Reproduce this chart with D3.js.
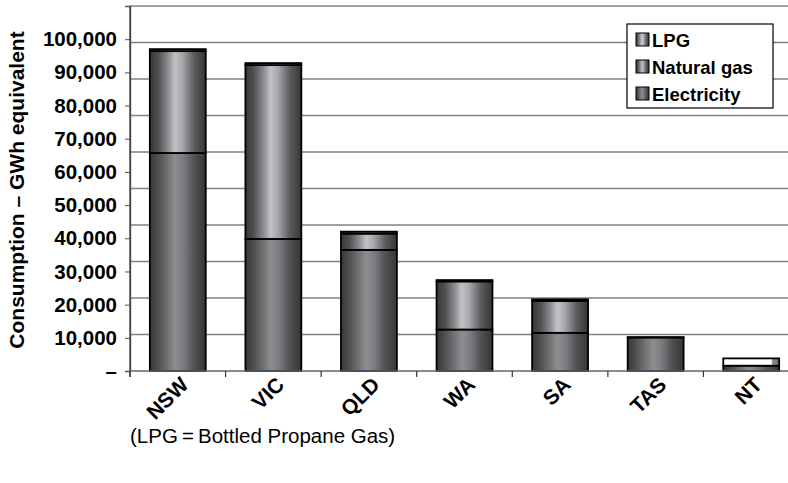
<!DOCTYPE html>
<html>
<head>
<meta charset="utf-8">
<script src="https://cdn.jsdelivr.net/npm/d3@7"></script>
<style>
  html, body { margin: 0; padding: 0; background: #fff; }
  svg { display: block; font-family: Arial, "Liberation Sans", Helvetica, sans-serif; }
</style>
</head>
<body>
<svg id="chart" width="788" height="483"></svg>
<script>
// Household energy consumption by state, GWh equivalent
const states = ["NSW", "VIC", "QLD", "WA", "SA", "TAS", "NT"];
const electricity = [65700, 39800, 36500, 12500, 11500, 10100, 1600];
const naturalGas  = [30700, 52400, 4900, 14500, 9600, 0, 2200];
const lpg         = [600, 600, 600, 400, 500, 100, 0];
const seriesNames = ["Electricity", "Natural gas", "LPG"];
const legendOrder = ["LPG", "Natural gas", "Electricity"];
const yTicks = [0, 10000, 20000, 30000, 40000, 50000, 60000, 70000, 80000, 90000, 100000];
const yMax = 110000;
const gridStep = 11000;
const yTitle = "Consumption \u2013 GWh equivalent";
const footnote = "(LPG\u2009=\u2009Bottled Propane Gas)";

const svg = d3.select("#chart");
const plot = { left: 130, right: 799, top: 6, bottom: 371 };

const x = d3.scaleBand().domain(states).range([plot.left, plot.right])
  .paddingInner(0.415).paddingOuter(0.2075);
const y = d3.scaleLinear().domain([0, yMax]).range([plot.bottom, plot.top]);

// cylinder-style shading for each series
const defs = svg.append("defs");
const shades = {
  "Electricity": [[0, "#383838"], [0.12, "#4a4a4c"], [0.3, "#6e6e70"], [0.45, "#8e8e92"], [0.6, "#7c7c80"], [0.8, "#505052"], [1, "#363636"]],
  "Natural gas": [[0, "#383838"], [0.15, "#505052"], [0.32, "#8a8a8e"], [0.45, "#c2c2c6"], [0.58, "#a8a8ac"], [0.8, "#5a5a5c"], [1, "#363636"]],
  "LPG":         [[0, "#404040"], [0.15, "#5c5c5e"], [0.32, "#9a9a9e"], [0.45, "#cacace"], [0.58, "#b2b2b6"], [0.8, "#606062"], [1, "#3a3a3a"]],
  "pale":        [[0, "#ffffff"], [0.86, "#ffffff"], [0.88, "#8a8a8a"], [1, "#6a6a6a"]]
};
Object.entries(shades).forEach(([name, stops]) => {
  const g = defs.append("linearGradient")
    .attr("id", "grad-" + name.replace(/\s/g, ""))
    .attr("x1", 0).attr("x2", 1).attr("y1", 0).attr("y2", 0);
  stops.forEach(([o, c]) => g.append("stop").attr("offset", o).attr("stop-color", c));
});

// gridlines
const grid = d3.range(gridStep, yMax + 1, gridStep);
svg.append("g").selectAll("line").data(grid).join("line")
  .attr("x1", plot.left).attr("x2", plot.right)
  .attr("y1", d => y(d)).attr("y2", d => y(d))
  .attr("stroke", "#808080").attr("stroke-width", 1.6);

// stacked bars
const rows = states.map((s, i) => ({ state: s, Electricity: electricity[i], "Natural gas": naturalGas[i], LPG: lpg[i] }));
const stack = d3.stack().keys(seriesNames)(rows);
const barsG = svg.append("g");
stack.forEach(layer => {
  const key = layer.key;
  barsG.append("g").selectAll("rect").data(layer.filter(d => d[1] - d[0] > 0)).join("rect")
    .attr("x", d => x(d.data.state))
    .attr("width", x.bandwidth())
    .attr("y", d => y(d[1]))
    .attr("height", d => y(d[0]) - y(d[1]))
    .attr("fill", d => (d.data.state === "NT" && key === "Natural gas") ? "url(#grad-pale)" : "url(#grad-" + key.replace(/\s/g, "") + ")")
    .attr("stroke", "#000").attr("stroke-width", 1.8);
});

// y axis
const yAxis = svg.append("g").attr("transform", `translate(${plot.left},0)`)
  .call(d3.axisLeft(y).tickValues(yTicks).tickSize(5).tickPadding(8)
    .tickFormat(d => d === 0 ? "\u2013" : d3.format(",")(d)));
yAxis.select(".domain").attr("stroke", "#555").attr("stroke-width", 1.4);
yAxis.selectAll(".tick line").attr("stroke", "#555");
yAxis.selectAll("text").attr("font-size", 20.5).attr("font-weight", "bold").attr("fill", "#000")
  .attr("font-family", "Arial, 'Liberation Sans', sans-serif");

// x axis baseline, category ticks and labels
const xBase = svg.append("g");
xBase.append("line").attr("x1", plot.left).attr("x2", plot.right)
  .attr("y1", plot.bottom).attr("y2", plot.bottom).attr("stroke", "#666").attr("stroke-width", 1.4);
const tickXs = d3.range(states.length + 1).map(i => plot.left + i * x.step());
xBase.selectAll("line.tk").data(tickXs).join("line").attr("class", "tk")
  .attr("x1", d => d).attr("x2", d => d).attr("y1", plot.bottom).attr("y2", plot.bottom + 6)
  .attr("stroke", "#333").attr("stroke-width", 1.2);
xBase.selectAll("text").data(states).join("text")
  .attr("transform", d => `translate(${x(d) + x.bandwidth() / 2 + 12},${plot.bottom + 15}) rotate(-45)`)
  .attr("text-anchor", "end")
  .attr("font-size", 21).attr("font-weight", "bold")
  .text(d => d);

// left axis line
svg.append("line").attr("x1", plot.left).attr("x2", plot.left)
  .attr("y1", plot.top).attr("y2", plot.bottom + 6).attr("stroke", "#444").attr("stroke-width", 1.4);

// y title
svg.append("text")
  .attr("transform", `translate(24,190) rotate(-90)`)
  .attr("text-anchor", "middle").attr("font-size", 21).attr("font-weight", "bold")
  .text(yTitle);

// legend
const lg = svg.append("g").attr("transform", "translate(627,24)");
lg.append("rect").attr("width", 146).attr("height", 84)
  .attr("fill", "#fff").attr("stroke", "#000").attr("stroke-width", 1.2);
legendOrder.forEach((name, i) => {
  const row = lg.append("g").attr("transform", `translate(9,${16 + i * 27})`);
  row.append("rect").attr("x", 0).attr("y", -7).attr("width", 13).attr("height", 13)
    .attr("fill", "url(#grad-" + name.replace(/\s/g, "") + ")").attr("stroke", "#000").attr("stroke-width", 1);
  row.append("text").attr("x", 16).attr("y", 6.5).attr("font-size", 18.5).attr("font-weight", "bold").text(name);
});

// footnote
svg.append("text").attr("x", 130).attr("y", 443).attr("font-size", 20.5).text(footnote);
</script>
</body>
</html>
